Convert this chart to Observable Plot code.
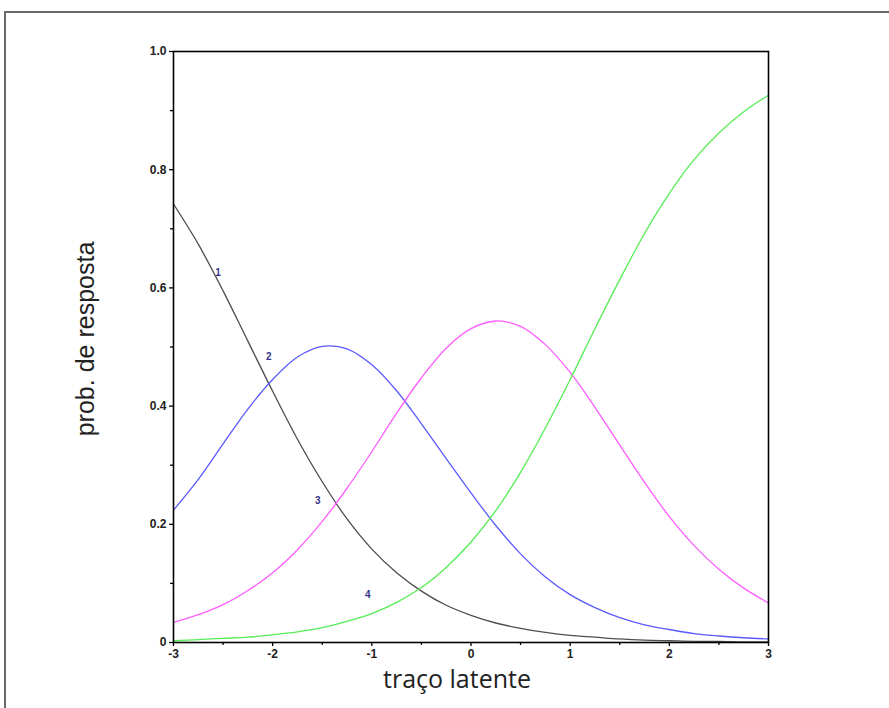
<!DOCTYPE html>
<html><head><meta charset="utf-8">
<script src="https://cdn.jsdelivr.net/npm/d3@7"></script>
<script src="https://cdn.jsdelivr.net/npm/@observablehq/plot@0.6"></script>
<style>
body{margin:0;background:#fff;overflow:hidden}
#wrap{position:relative;width:889px;height:708px;overflow:hidden;background:#fff}
#outer{position:absolute;left:4px;top:11px;width:1000px;height:1000px;border-left:2px solid #6a6a6a;border-top:2px solid #6a6a6a;pointer-events:none}
#chart{position:absolute;left:0;top:0}
</style></head><body><div id="wrap"><div id="chart"></div><div id="outer"></div></div>
<script>
const theta = [-3,-2.75,-2.5,-2.25,-2,-1.75,-1.5,-1.25,-1,-0.75,-0.5,-0.25,0,0.25,0.5,0.75,1,1.25,1.5,1.75,2,2.25,2.5,2.75,3];
const cat1 = [0.742,0.674,0.595,0.510,0.425,0.344,0.272,0.209,0.158,0.118,0.087,0.063,0.046,0.033,0.024,0.017,0.012,0.009,0.006,0.004,0.003,0.002,0.002,0.001,0.001];
const cat2 = [0.224,0.276,0.336,0.395,0.445,0.483,0.501,0.497,0.470,0.426,0.370,0.311,0.253,0.198,0.150,0.111,0.081,0.059,0.042,0.030,0.022,0.015,0.011,0.008,0.006];
const cat3 = [0.034,0.047,0.064,0.088,0.118,0.157,0.205,0.261,0.323,0.388,0.448,0.498,0.531,0.544,0.535,0.504,0.457,0.398,0.334,0.271,0.213,0.164,0.124,0.092,0.067];
const cat4 = [0.003,0.005,0.007,0.009,0.013,0.018,0.025,0.036,0.049,0.068,0.093,0.127,0.170,0.223,0.288,0.363,0.445,0.531,0.614,0.692,0.760,0.817,0.862,0.898,0.926];
const seriesNames = ["1","2","3","4"];
const seriesColors = ["#4d4d4d","#5a5aff","#ff5cff","#55ee55"];
const labelX = [-2.55,-2.04,-1.545,-1.04];
const labelY = [0.626,0.484,0.239,0.081];
const xTicks = [-3,-2,-1,0,1,2,3];
const xMinor = [-2.5,-1.5,-0.5,0.5,1.5,2.5];
const yTicks = [0,0.2,0.4,0.6,0.8,1.0];
const yMinor = [0.1,0.3,0.5,0.7,0.9];

const seriesVals = [cat1,cat2,cat3,cat4];
const rows = [];
seriesVals.forEach((vals,i)=>vals.forEach((v,j)=>rows.push({theta:theta[j], p:v, cat:seriesNames[i]})));
const labels = seriesNames.map((s,i)=>({t:s, x:labelX[i], y:labelY[i]}));

const font = "Liberation Sans, Arial, sans-serif";
const chart = Plot.plot({
  width: 889, height: 708,
  marginLeft: 173, marginRight: 121, marginTop: 51, marginBottom: 66,
  style: {fontFamily: font, background: "transparent"},
  x: {domain: [-3,3]},
  y: {domain: [0,1]},
  color: {domain: seriesNames, range: seriesColors},
  marks: [
    Plot.line(rows, {x:"theta", y:"p", z:"cat", stroke:"cat", strokeWidth:1.3, curve:"catmull-rom"}),
    Plot.text(labels, {x:"x", y:"y", text:"t", fill:"#35358a", fontSize:10, fontWeight:"bold"}),
    Plot.frame({stroke:"#000", strokeWidth:1.6}),
    Plot.axisY({ticks: yTicks, tickSize:4, tickPadding:3, tickFormat: d => d===0 ? "0" : d.toFixed(1), fontSize:12, fontWeight:"bold", label:null, stroke:"#000", strokeWidth:1.3, fill:"#222"}),
    Plot.axisY({ticks: yMinor, tickSize:3, text:null, label:null, stroke:"#000", strokeWidth:1.3}),
    Plot.axisX({ticks: xTicks, tickSize:4, tickPadding:3, tickFormat: d => String(d), fontSize:12, fontWeight:"bold", label:null, stroke:"#000", strokeWidth:1.3, fill:"#222"}),
    Plot.axisX({ticks: xMinor, tickSize:3, text:null, label:null, stroke:"#000", strokeWidth:1.3}),
    Plot.text(["traço latente"], {frameAnchor:"bottom", dy:45, dx:-14, fontSize:25, fontFamily:"Open Sans, DejaVu Sans, sans-serif", fill:"#222"}),
    Plot.text(["prob. de resposta"], {frameAnchor:"left", textAnchor:"middle", dx:-88, dy:-8, rotate:-90, fontSize:25, fill:"#222"})
  ]
});
document.getElementById("chart").appendChild(chart);
</script>
</body></html>
